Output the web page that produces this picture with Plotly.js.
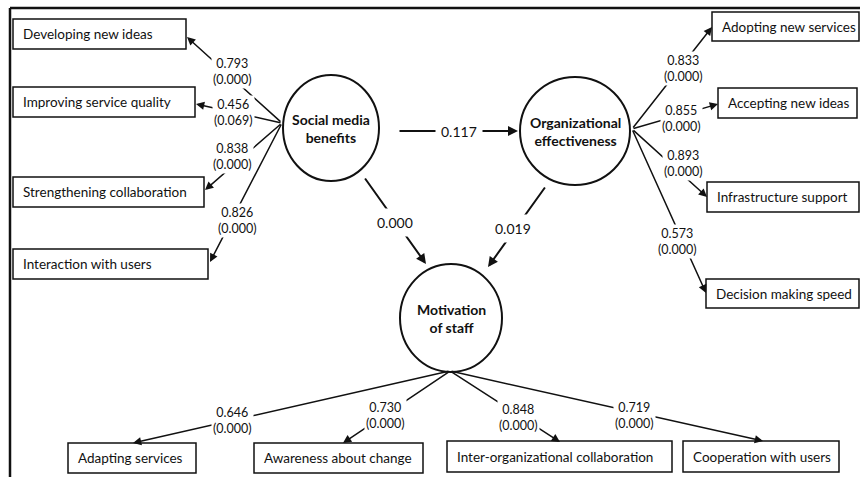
<!DOCTYPE html>
<html>
<head>
<meta charset="utf-8">
<script src="https://cdn.plot.ly/plotly-3.0.1.min.js"></script>
<style>html,body{margin:0;padding:0;background:#fff;}#chart{width:860px;height:477px;}</style>
</head>
<body>
<div id="chart"></div>
<script>
// ---------- data ----------
const latentNames = ["Social media<br>benefits", "Organizational<br>effectiveness", "Motivation<br>of staff"];
const pathCoefs = [0.117, 0.000, 0.019]; // SMB->OE, SMB->MoS, OE->MoS

const smbItems = ["Developing new ideas", "Improving service quality", "Strengthening collaboration", "Interaction with users"];
const smbLoadings = [0.793, 0.456, 0.838, 0.826];
const smbPvalues = [0.000, 0.069, 0.000, 0.000];

const oeItems = ["Adopting new services", "Accepting new ideas", "Infrastructure support", "Decision making speed"];
const oeLoadings = [0.833, 0.855, 0.893, 0.573];
const oePvalues = [0.000, 0.000, 0.000, 0.000];

const mosItems = ["Adapting services", "Awareness about change", "Inter-organizational collaboration", "Cooperation with users"];
const mosLoadings = [0.646, 0.730, 0.848, 0.719];
const mosPvalues = [0.000, 0.000, 0.000, 0.000];

// ---------- geometry (layout only) ----------
const latentGeo = [
  {cx: 331, cy: 128, rx: 48, ry: 53},
  {cx: 575, cy: 131, rx: 55, ry: 54},
  {cx: 451, cy: 318, rx: 51, ry: 54}
];
const pathGeo = [[398, 131, 518, 131], [364, 177, 426, 264], [546, 186, 488, 267]];
const pathLabelPos = [[459, 131], [395, 222], [513, 228]];

const blocks = [
  {items: smbItems, loads: smbLoadings, pv: smbPvalues, src: [282, 123],
   boxes: [[13, 19, 186, 49], [13, 87, 195, 117], [13, 177, 204, 207], [13, 249, 208, 279]],
   tips: [[187, 37], [196, 104], [205, 190], [210, 262]],
   lab: [[232, 71], [233, 112], [232, 156], [237, 220]]},
  {items: oeItems, loads: oeLoadings, pv: oePvalues, src: [632, 129],
   boxes: [[712, 12, 859, 41], [718, 88, 857, 118], [707, 182, 859, 212], [706, 279, 859, 308]],
   tips: [[712, 27], [718, 104], [707, 197], [706, 293]],
   lab: [[683, 68], [681, 118], [683, 163], [677, 241]]},
  {items: mosItems, loads: mosLoadings, pv: mosPvalues, src: [450, 371],
   boxes: [[68, 443, 196, 473], [254, 443, 423, 473], [447, 441, 672, 472], [683, 441, 839, 472]],
   tips: [[133, 443], [343, 443], [560, 442], [763, 441]],
   lab: [[232, 420], [385, 415], [518, 417], [634, 415]]}
];

const FONT = "Lato, 'Open Sans', sans-serif";
const INK = "#111";
const shapes = [];
const arrows = [];
const labels = [];

// frame
shapes.push({type: "line", x0: 10, y0: 8, x1: 860, y1: 8, line: {color: INK, width: 2.5}});
shapes.push({type: "line", x0: 10, y0: 8, x1: 10, y1: 477, line: {color: INK, width: 2.5}});

// latent circles
latentGeo.forEach((g, i) => {
  shapes.push({type: "circle", x0: g.cx - g.rx, x1: g.cx + g.rx, y0: g.cy - g.ry, y1: g.cy + g.ry,
    line: {color: INK, width: 2}, fillcolor: "rgba(0,0,0,0)"});
  labels.push({x: g.cx, y: g.cy, text: "<b>" + latentNames[i] + "</b>", showarrow: false,
    font: {family: FONT, size: 14, color: INK}, xanchor: "center", yanchor: "middle"});
});

// indicator blocks
blocks.forEach(b => {
  b.items.forEach((name, i) => {
    const bx = b.boxes[i];
    shapes.push({type: "rect", x0: bx[0], y0: bx[1], x1: bx[2], y1: bx[3],
      line: {color: INK, width: 1.5}, fillcolor: "#fff"});
    labels.push({x: bx[0] + 8, y: (bx[1] + bx[3]) / 2, text: name, showarrow: false,
      xanchor: "left", yanchor: "middle", font: {family: FONT, size: 13.5, color: INK}});
    arrows.push({x: b.tips[i][0], y: b.tips[i][1], ax: b.src[0], ay: b.src[1],
      xref: "x", yref: "y", axref: "x", ayref: "y", text: "", showarrow: true,
      arrowhead: 2, arrowsize: 1.1, arrowwidth: 1.5, arrowcolor: INK});
    labels.push({x: b.lab[i][0], y: b.lab[i][1],
      text: b.loads[i].toFixed(3) + "<br>(" + b.pv[i].toFixed(3) + ")",
      showarrow: false, bgcolor: "#fff", borderpad: 1,
      font: {family: FONT, size: 12.5, color: INK}, xanchor: "center", yanchor: "middle"});
  });
});

// structural paths
pathGeo.forEach((p, i) => {
  arrows.push({x: p[2], y: p[3], ax: p[0], ay: p[1],
    xref: "x", yref: "y", axref: "x", ayref: "y", text: "", showarrow: true,
    arrowhead: 2, arrowsize: 1, arrowwidth: 2, arrowcolor: INK});
  labels.push({x: pathLabelPos[i][0], y: pathLabelPos[i][1], text: pathCoefs[i].toFixed(3),
    showarrow: false, bgcolor: "#fff", borderpad: 5,
    font: {family: FONT, size: 14, color: INK}, xanchor: "center", yanchor: "middle"});
});

const layout = {
  width: 860, height: 477,
  margin: {l: 0, r: 0, t: 0, b: 0},
  paper_bgcolor: "#fff", plot_bgcolor: "#fff",
  xaxis: {range: [0, 860], visible: false, fixedrange: true},
  yaxis: {range: [477, 0], visible: false, fixedrange: true},
  shapes: shapes,
  annotations: arrows.concat(labels),
  showlegend: false
};

Plotly.newPlot("chart", [], layout, {staticPlot: true, displayModeBar: false});
</script>
</body>
</html>
